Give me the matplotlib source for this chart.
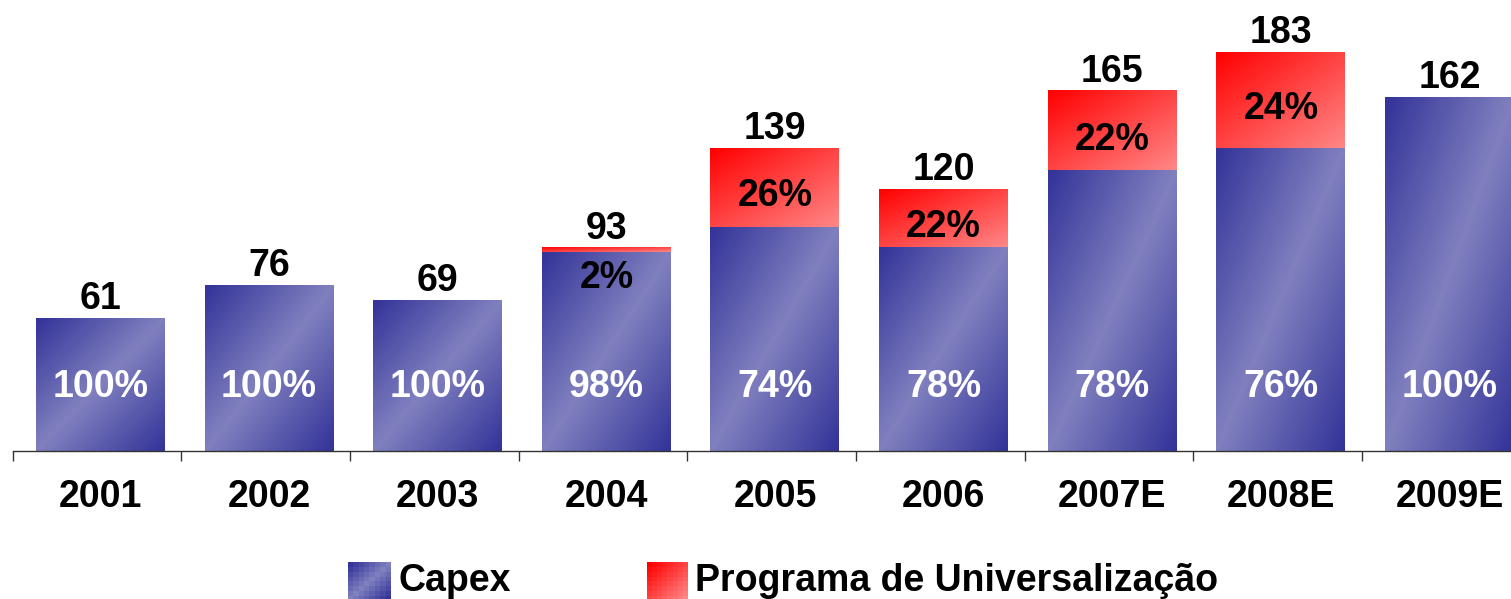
import matplotlib
matplotlib.use("Agg")
import matplotlib.pyplot as plt
import numpy as np

plt.rcParams['font.family'] = ['Liberation Sans', 'DejaVu Sans']
plt.rcParams['font.weight'] = 'bold'

# data
years = ["2001", "2002", "2003", "2004", "2005", "2006", "2007E", "2008E", "2009E"]
totals = [61, 76, 69, 93, 139, 120, 165, 183, 162]
capex_pct = [100, 100, 100, 98, 74, 78, 78, 76, 100]
univ_pct = [0, 0, 0, 2, 26, 22, 22, 24, 0]

DARK_BLUE = np.array([51, 51, 153]) / 255.0
LIGHT_BLUE = np.array([128, 128, 191]) / 255.0
RED = np.array([255, 0, 0]) / 255.0
PINK = np.array([255, 135, 135]) / 255.0


def blue_grad(n=64):
    u = np.linspace(0, 1, n)
    v = np.linspace(0, 1, n)
    U, V = np.meshgrid(u, v)
    # row 0 is top (origin upper)
    s = (U + V) / 2.0
    f = 1 - np.abs(2 * s - 1)
    img = DARK_BLUE[None, None, :] * (1 - f[..., None]) + LIGHT_BLUE[None, None, :] * f[..., None]
    return img


def red_grad(n=64):
    u = np.linspace(0, 1, n)
    v = np.linspace(0, 1, n)
    U, V = np.meshgrid(u, v)
    s = (U + V) / 2.0
    img = RED[None, None, :] * (1 - s[..., None]) + PINK[None, None, :] * s[..., None]
    return img


W, H = 1511, 599
fig = plt.figure(figsize=(W / 100, H / 100), dpi=100)

FS = 27
step = 169.0
left_px = 97.3 - 0.5 * step
ax_w = 9 * step
ax_bottom = (H - 451) / H
ymax = 200
ax_h = ymax * 2.18 / H
ax = fig.add_axes([left_px / W, ax_bottom, ax_w / W, ax_h])
ax.set_xlim(-0.5, 8.5)
ax.set_ylim(0, ymax)

bw = 0.765
bimg = blue_grad()
rimg = red_grad()
for i, (tot, cp) in enumerate(zip(totals, capex_pct)):
    blue_h = tot * cp / 100.0
    red_h = tot - blue_h
    x0, x1 = i - bw / 2, i + bw / 2
    ax.imshow(bimg, extent=(x0, x1, 0, blue_h), aspect='auto', origin='upper',
              interpolation='bilinear', zorder=2)
    if red_h > 0:
        ax.imshow(rimg, extent=(x0, x1, blue_h, tot), aspect='auto', origin='upper',
                  interpolation='bilinear', zorder=2)
    ax.annotate(str(tot), (i, tot), xytext=(0, 1), textcoords='offset points',
                ha='center', va='bottom', fontsize=FS, fontweight='bold', color='black')
    ax.text(i, 29.5, "%d%%" % cp, ha='center', va='center', fontsize=FS,
            fontweight='bold', color='white', zorder=3)
    if univ_pct[i] > 0:
        if red_h < 10:
            ly = blue_h - 12
        else:
            ly = blue_h + red_h / 2 - 4
        ax.text(i, ly, "%d%%" % univ_pct[i], ha='center', va='center', fontsize=FS,
                fontweight='bold', color='black', zorder=3)

for sp in ['top', 'right', 'left']:
    ax.spines[sp].set_visible(False)
ax.spines['bottom'].set_color('#333333')
ax.spines['bottom'].set_linewidth(1.0)
ax.set_yticks([])
ax.set_xticks(range(len(years)))
ax.set_xticklabels(years, fontsize=FS, fontweight='bold')
ax.tick_params(axis='x', which='major', length=0, pad=20)
ax.set_xticks(np.arange(len(years)) - 0.52, minor=True)
ax.tick_params(axis='x', which='minor', length=7, width=1, color='#333333', direction='out')

# legend
lax = fig.add_axes([348 / W, (H - 601) / H, 43 / W, 39 / H])
lax.imshow(blue_grad(8), aspect='auto', interpolation='nearest')
lax.axis('off')
fig.text(398 / W, (H - 581) / H, "Capex", fontsize=FS, fontweight='bold', va='center', ha='left')
lax2 = fig.add_axes([647 / W, (H - 601) / H, 41 / W, 39 / H])
lax2.imshow(red_grad(8), aspect='auto', interpolation='nearest')
lax2.axis('off')
fig.text(695 / W, (H - 581) / H, "Programa de Universalização", fontsize=FS,
         fontweight='bold', va='center', ha='left')

fig.savefig("out.png", dpi=100)
